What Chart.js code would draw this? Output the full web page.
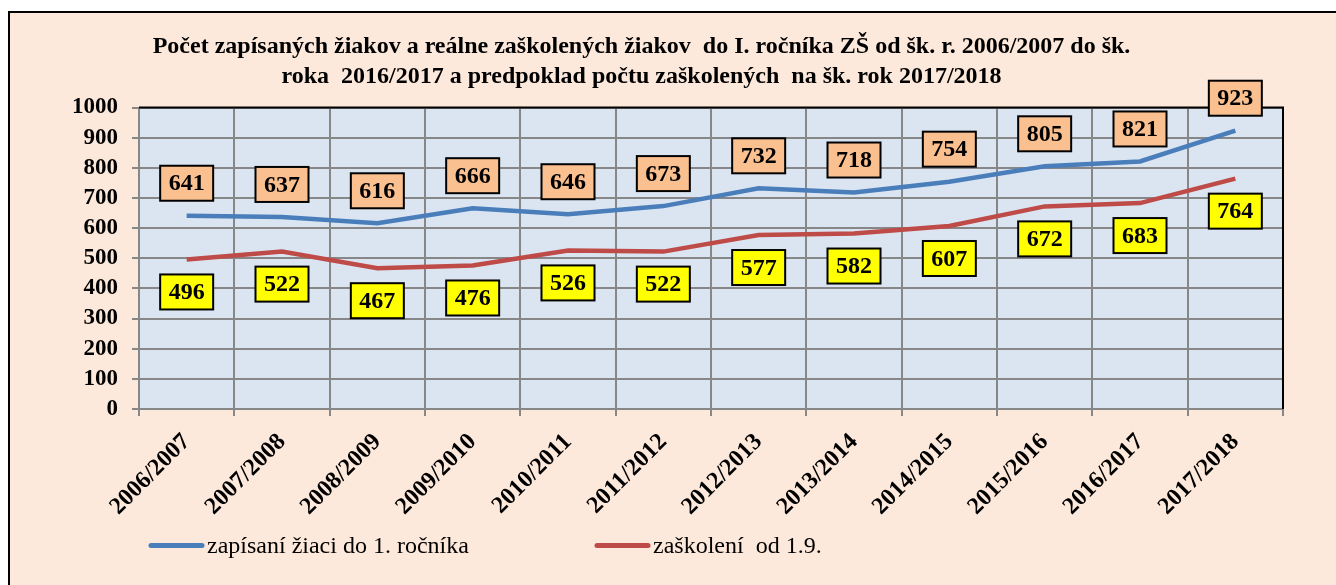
<!DOCTYPE html>
<html>
<head>
<meta charset="utf-8">
<script src="https://cdn.jsdelivr.net/npm/chart.js@4/dist/chart.umd.min.js"></script>
<style>
  html, body { margin: 0; padding: 0; background: #ffffff; overflow: hidden; }
  #frame { position: absolute; left: 8px; top: 11px; width: 1340px; height: 600px;
           background: #fde9db; border: 2px solid #000; box-sizing: border-box; }
  #c { position: absolute; left: 0; top: 0; }
</style>
</head>
<body>
<div id="frame"></div>
<canvas id="c" width="1336" height="585"></canvas>
<script>
const categories = ['2006/2007','2007/2008','2008/2009','2009/2010','2010/2011','2011/2012',
                    '2012/2013','2013/2014','2014/2015','2015/2016','2016/2017','2017/2018'];
const enrolled = [641, 637, 616, 666, 646, 673, 732, 718, 754, 805, 821, 923];
const schooled = [496, 522, 467, 476, 526, 522, 577, 582, 607, 672, 683, 764];
const seriesNames = ['zapísaní žiaci do 1. ročníka', 'zaškolení  od 1.9.'];
const titleLines = ['Počet zapísaných žiakov a reálne zaškolených žiakov  do I. ročníka ZŠ od šk. r. 2006/2007 do šk.',
                    'roka  2016/2017 a predpoklad počtu zaškolených  na šk. rok 2017/2018'];

const SERIF = '"Liberation Serif", "Times New Roman", serif';

const plotDecor = {
  id: 'plotDecor',
  beforeDraw(chart) {
    const {ctx, chartArea: a} = chart;
    ctx.save();
    ctx.fillStyle = '#dbe5f1';
    ctx.fillRect(a.left, a.top, a.right - a.left, a.bottom - a.top);
    ctx.restore();
  },
  afterDatasetsDraw(chart) {
    const {ctx, chartArea: a} = chart;
    ctx.save();
    ctx.strokeStyle = '#000';
    ctx.lineWidth = 2;
    ctx.beginPath();
    ctx.moveTo(a.left, a.top);
    ctx.lineTo(a.right, a.top);
    ctx.lineTo(a.right, a.bottom);
    ctx.stroke();
    ctx.restore();
  }
};

const boxLabels = {
  id: 'boxLabels',
  afterDatasetsDraw(chart) {
    const ctx = chart.ctx;
    const fills = ['#fac090', '#ffff00'];
    const offs = [-32.5, 32.5];
    ctx.save();
    ctx.font = 'bold 24px ' + SERIF;
    ctx.textAlign = 'center';
    ctx.textBaseline = 'middle';
    chart.data.datasets.forEach((ds, di) => {
      const meta = chart.getDatasetMeta(di);
      meta.data.forEach((pt, i) => {
        const txt = String(ds.data[i]);
        const w = ctx.measureText(txt).width + 17;
        const h = 35;
        const cx = pt.x, cy = pt.y + offs[di];
        ctx.fillStyle = fills[di];
        ctx.fillRect(cx - w / 2, cy - h / 2, w, h);
        ctx.strokeStyle = '#000';
        ctx.lineWidth = 2;
        ctx.strokeRect(cx - w / 2, cy - h / 2, w, h);
        ctx.fillStyle = '#000';
        ctx.fillText(txt, cx, cy + 1);
      });
    });
    ctx.restore();
  }
};

const customLegend = {
  id: 'customLegend',
  afterDraw(chart) {
    const ctx = chart.ctx;
    const starts = [149, 595];
    const y = 545.5;
    ctx.save();
    ctx.font = '24px ' + SERIF;
    ctx.textBaseline = 'middle';
    ctx.textAlign = 'left';
    chart.data.datasets.forEach((ds, di) => {
      const x = starts[di];
      ctx.strokeStyle = ds.borderColor;
      ctx.lineWidth = 5;
      ctx.lineCap = 'round';
      ctx.beginPath();
      ctx.moveTo(x + 2, y);
      ctx.lineTo(x + 53, y);
      ctx.stroke();
      ctx.fillStyle = '#000';
      ctx.fillText(ds.label, x + 58, y + 1);
    });
    ctx.restore();
  }
};

new Chart(document.getElementById('c'), {
  type: 'line',
  data: {
    labels: categories,
    datasets: [
      { label: seriesNames[0], data: enrolled, borderColor: '#4a7ebb', borderWidth: 4.5,
        pointRadius: 0, tension: 0, fill: false },
      { label: seriesNames[1], data: schooled, borderColor: '#be4b48', borderWidth: 4.5,
        pointRadius: 0, tension: 0, fill: false }
    ]
  },
  options: {
    responsive: false,
    animation: false,
    layout: { padding: { left: 0, right: 53, top: 0, bottom: 0 } },
    plugins: {
      legend: { display: false },
      tooltip: { enabled: false },
      title: {
        display: true,
        text: titleLines,
        color: '#000',
        font: { family: SERIF, size: 24, weight: 'bold', lineHeight: 1.25 },
        padding: { top: 32, bottom: 15.5 }
      }
    },
    scales: {
      x: {
        offset: true,
        grid: { color: '#878787', lineWidth: 2, tickLength: 7, offset: true, drawOnChartArea: true },
        border: { color: '#878787', width: 2 },
        ticks: {
          color: '#000', minRotation: 45, maxRotation: 45, autoSkip: false, padding: 12,
          font: { family: SERIF, size: 24, weight: 'bold' }
        },
        afterFit(scale) { scale.height = 176; }
      },
      y: {
        min: 0, max: 1000,
        grid: { color: '#878787', lineWidth: 2, tickLength: 7 },
        border: { color: '#878787', width: 2 },
        ticks: {
          stepSize: 100, color: '#000', padding: 14, autoSkip: false,
          font: { family: SERIF, size: 23, weight: 'bold', lineHeight: 1 },
          callback: (v) => String(v)
        },
        afterFit(scale) { scale.width = 139; }
      }
    }
  },
  plugins: [plotDecor, boxLabels, customLegend]
});
</script>
</body>
</html>
